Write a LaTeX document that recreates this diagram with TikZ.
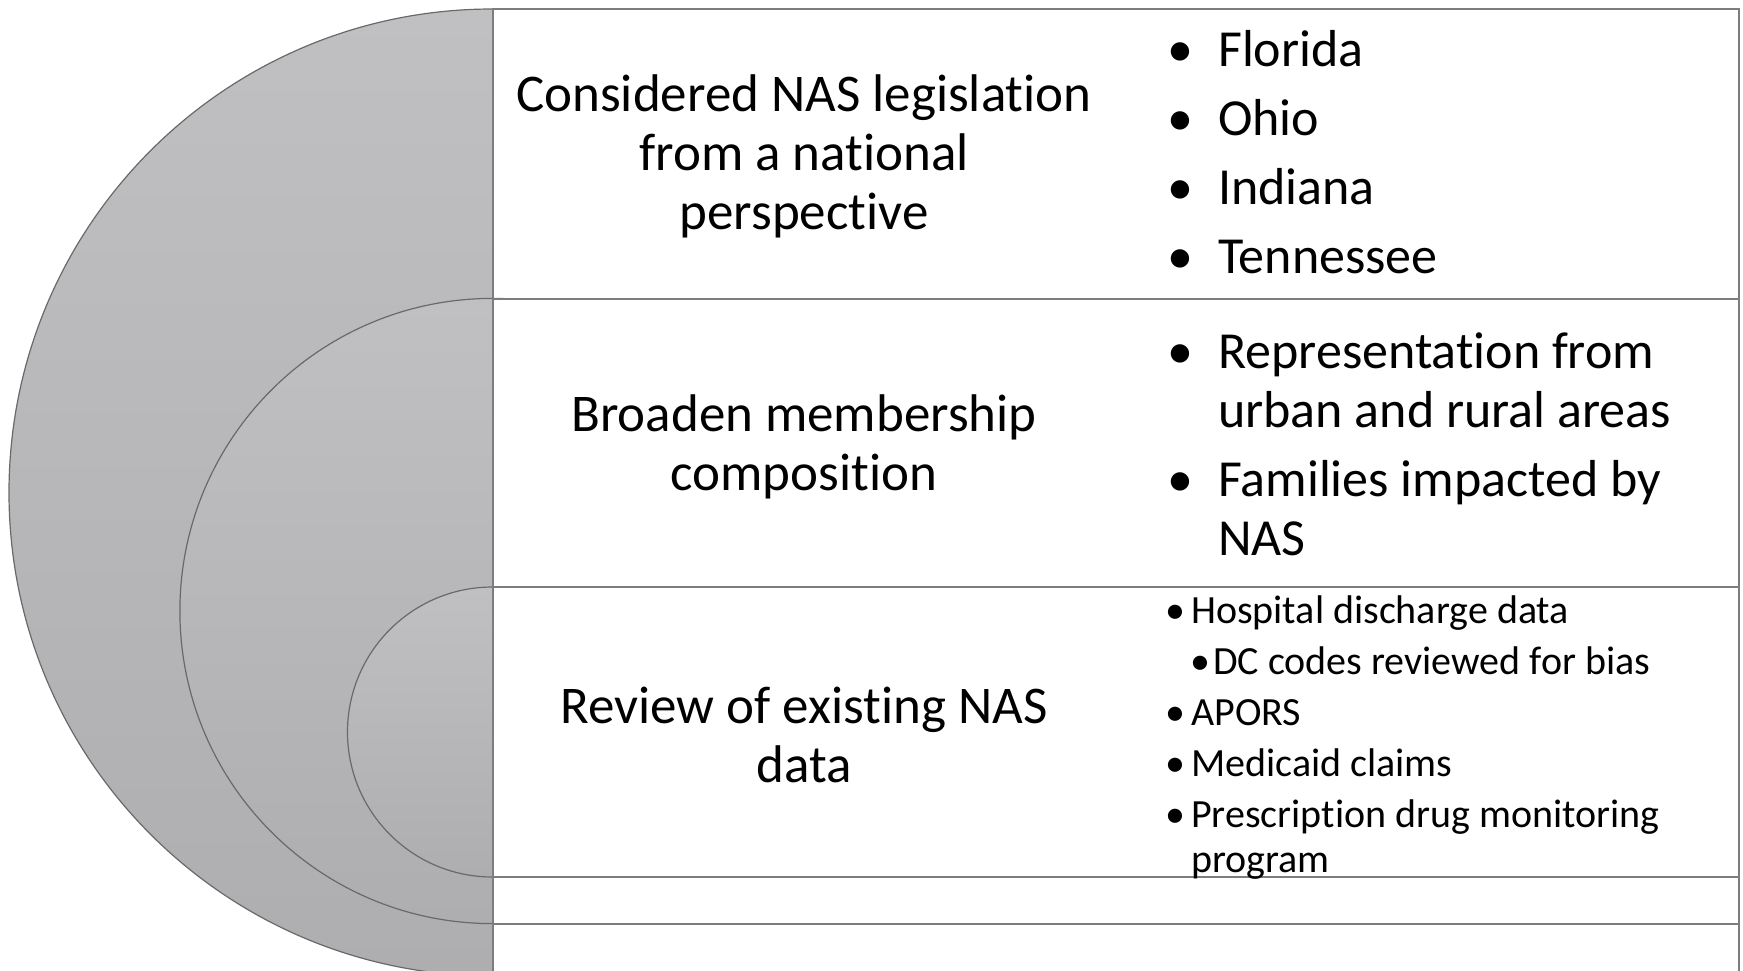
\documentclass[tikz,border=0pt]{standalone}
\usepackage{fontspec}
\setmainfont{Carlito}[Ligatures=NoCommon]
\definecolor{ringtop}{RGB}{192,192,194}
\definecolor{ringbottom}{RGB}{174,174,176}
\definecolor{ringedge}{RGB}{105,105,105}
\definecolor{bandedge}{RGB}{125,125,125}
% bullet and hanging indent for the list columns
\newcommand{\bul}[1][51pt]{\makebox[#1][l]{\textbullet}}
\newcommand{\cont}[1][51pt]{\makebox[#1]{}}

\begin{document}
\begin{tikzpicture}[x=1pt, y=-1pt,
    ring/.style={draw=ringedge, line width=1.2pt, top color=ringtop, bottom color=ringbottom},
    band/.style={draw=bandedge, line width=2pt, fill=white},
    headtext/.style={align=center, font=\fontsize{53}{59}\selectfont},
    listtext/.style={align=left, anchor=base west, inner sep=0pt, font=\fontsize{52}{59}\selectfont},
    smalllist/.style={listtext, font=\fontsize{40}{45}\selectfont}]

    \useasboundingbox (0,0) rectangle (1743,970);
    \clip (0,0) rectangle (1743,970);

    % Outer ring and its band
    \draw[ring] (492.5,492.5) circle (483.5);
    \draw[band] (492.5,9) rectangle (1738.5,976);

    % Middle ring and its band
    \draw[ring] (492.5,611) circle (312.6);
    \draw[band] (492.5,298.5) rectangle (1738.5,923.6);

    % Inner ring and its band
    \draw[ring] (492.5,732) circle (145);
    \draw[band] (492.5,587) rectangle (1738.5,877);

    % Headings, left column
    \node[headtext] (nationalHead) at (804,156.5) {Considered NAS legislation\\from a national\\perspective};
    \node[headtext] (memberHead) at (804,447) {Broaden membership\\composition};
    \node[headtext] (dataHead) at (804,735) {Review of existing NAS\\data};

    % Lists, right column (placed by the baseline of their last line)
    \node[listtext] (stateList) at (1167,273) {%
        \bul Florida\\[10pt]
        \bul Ohio\\[10pt]
        \bul Indiana\\[10pt]
        \bul Tennessee};

    \node[listtext] (memberList) at (1167,555) {%
        \bul Representation from\\
        \cont urban and rural areas\\[10pt]
        \bul Families impacted by\\
        \cont NAS};

    \node[smalllist] (sourceList) at (1165,872) {%
        \bul[26pt]Hospital discharge data\\[6pt]
        \cont[25pt]\bul[23pt]DC codes reviewed for bias\\[6pt]
        \bul[26pt]APORS\\[6pt]
        \bul[26pt]Medicaid claims\\[6pt]
        \bul[26pt]Prescription drug monitoring\\
        \cont[26pt]program};

\end{tikzpicture}
\end{document}
